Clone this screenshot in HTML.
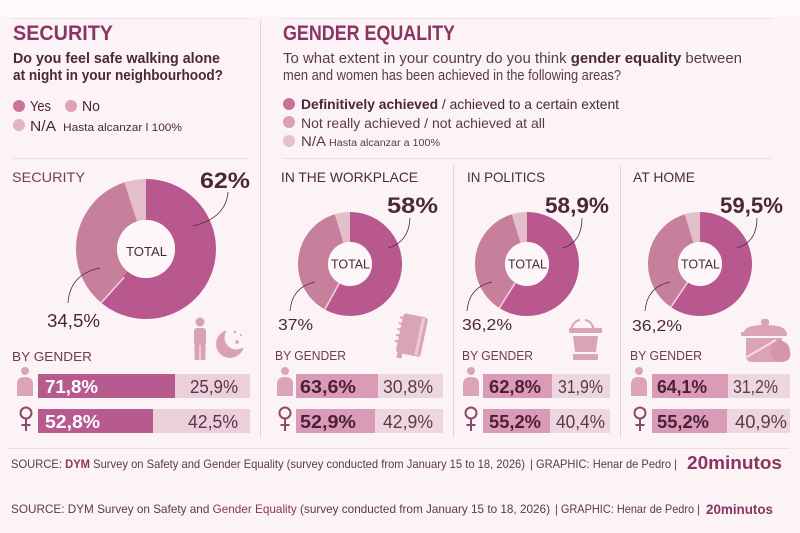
<!DOCTYPE html>
<html><head><meta charset="utf-8"><style>
html,body{margin:0;padding:0;background:#fcf3f6;}
svg{display:block;}
text{font-family:"Liberation Sans",sans-serif;}
</style></head><body>
<svg width="800" height="533" viewBox="0 0 800 533" xmlns="http://www.w3.org/2000/svg">
<rect x="0" y="0" width="800" height="533" fill="#fcf3f6"/>
<rect x="0" y="0" width="800" height="17" fill="#fefafb"/>
<!-- lines -->
<line x1="12" y1="18.5" x2="250" y2="18.5" stroke="#efe3e8" stroke-width="1"/>
<line x1="282" y1="18.5" x2="772" y2="18.5" stroke="#efe3e8" stroke-width="1"/>
<line x1="12" y1="158.5" x2="248" y2="158.5" stroke="#ecdde3" stroke-width="1"/>
<line x1="282" y1="158.5" x2="772" y2="158.5" stroke="#ecdde3" stroke-width="1"/>
<line x1="260.5" y1="20" x2="260.5" y2="438" stroke="#e6d3db" stroke-width="1"/>
<line x1="453.5" y1="165" x2="453.5" y2="438" stroke="#e6d3db" stroke-width="1"/>
<line x1="620.5" y1="165" x2="620.5" y2="438" stroke="#e6d3db" stroke-width="1"/>
<line x1="8" y1="448.5" x2="790" y2="448.5" stroke="#ecdde3" stroke-width="1"/>

<!-- LEFT HEADER -->
<text x="13" y="40" font-size="21" font-weight="bold" fill="#8a3560" textLength="100" lengthAdjust="spacingAndGlyphs">SECURITY</text>
<text x="13" y="63" font-size="15" font-weight="bold" fill="#4a2838" textLength="207" lengthAdjust="spacingAndGlyphs">Do you feel safe walking alone</text>
<text x="13" y="80" font-size="15" font-weight="bold" fill="#4a2838" textLength="210" lengthAdjust="spacingAndGlyphs">at night in your neighbourhood?</text>
<circle cx="19" cy="106" r="6" fill="#c9769b"/>
<text x="30" y="111" font-size="15" fill="#4a2838" textLength="21" lengthAdjust="spacingAndGlyphs">Yes</text>
<circle cx="71" cy="106" r="6" fill="#dba3b8"/>
<text x="82" y="111" font-size="15" fill="#4a2838" textLength="18" lengthAdjust="spacingAndGlyphs">No</text>
<circle cx="19" cy="125" r="6" fill="#e2b5c5"/>
<text x="30" y="131" font-size="15" fill="#4a2838" textLength="26" lengthAdjust="spacingAndGlyphs">N/A</text>
<text x="63" y="131" font-size="11" fill="#4a2838" textLength="119" lengthAdjust="spacingAndGlyphs">Hasta alcanzar l 100%</text>

<!-- RIGHT HEADER -->
<text x="283" y="40" font-size="21" font-weight="bold" fill="#8a3560" textLength="172" lengthAdjust="spacingAndGlyphs">GENDER EQUALITY</text>
<text x="283" y="63" font-size="15" fill="#5a3a4a" textLength="459" lengthAdjust="spacingAndGlyphs">To what extent in your country do you think <tspan font-weight="bold" fill="#4a2838">gender equality</tspan> between</text>
<text x="283" y="80" font-size="15" fill="#5a3a4a" textLength="338" lengthAdjust="spacingAndGlyphs">men and women has been achieved in the following areas?</text>
<circle cx="289" cy="104" r="6" fill="#c96f98"/>
<text x="301" y="109" font-size="14" fill="#4a2838" textLength="318" lengthAdjust="spacingAndGlyphs"><tspan font-weight="bold">Definitively achieved</tspan> / achieved to a certain extent</text>
<circle cx="289" cy="122" r="6" fill="#d9a0b5"/>
<text x="301" y="128" font-size="14" fill="#5a3a4a" textLength="244" lengthAdjust="spacingAndGlyphs">Not really achieved / not achieved at all</text>
<circle cx="289" cy="141" r="6" fill="#e4c3cf"/>
<text x="301" y="146" font-size="14" fill="#5a3a4a" textLength="25" lengthAdjust="spacingAndGlyphs">N/A</text>
<text x="329" y="146" font-size="10" fill="#5a3a4a" textLength="111" lengthAdjust="spacingAndGlyphs">Hasta alcanzar a 100%</text>

<!-- SECURITY DONUT -->
<text x="12" y="182" font-size="14" fill="#7a3a5e" textLength="73" lengthAdjust="spacingAndGlyphs">SECURITY</text>
<g transform="rotate(-90 146 249)">
<circle cx="146" cy="249" r="49.5" fill="none" stroke="#b9588f" stroke-width="41" pathLength="360" stroke-dasharray="220 140"/>
<circle cx="146" cy="249" r="49.5" fill="none" stroke="#c7809b" stroke-width="41" pathLength="360" stroke-dasharray="122 238" stroke-dashoffset="-220"/>
<circle cx="146" cy="249" r="49.5" fill="none" stroke="#e3bfcb" stroke-width="41" pathLength="360" stroke-dasharray="18 342" stroke-dashoffset="-342"/>
</g>
<line x1="124.2" y1="277.3" x2="101" y2="303" stroke="#f5d5e0" stroke-width="1.5"/>
<circle cx="146" cy="249" r="29" fill="#fdf7f9"/>
<text x="126" y="256" font-size="13" fill="#4a2a3a" textLength="41" lengthAdjust="spacingAndGlyphs">TOTAL</text>
<text x="200" y="188" font-size="22" font-weight="bold" fill="#4a2838" textLength="50" lengthAdjust="spacingAndGlyphs">62%</text>
<path d="M228 192 Q226 218 193 226" fill="none" stroke="#4a2a3a" stroke-width="0.8"/>
<text x="47" y="327" font-size="18" fill="#4a2838" textLength="53" lengthAdjust="spacingAndGlyphs">34,5%</text>
<path d="M68 303 Q70 274 100 268" fill="none" stroke="#4a2a3a" stroke-width="0.8"/>
<!-- person & moon -->
<g fill="#d9a1b6">
<circle cx="200" cy="322" r="4.5"/>
<rect x="194" y="328" width="12" height="17" rx="3"/>
<rect x="194.5" y="342" width="5" height="18" rx="1"/>
<rect x="200.5" y="342" width="5" height="18" rx="1"/>
<circle cx="230" cy="344" r="14"/>
</g>
<circle cx="236.5" cy="337.5" r="12" fill="#fcf3f6"/>
<g fill="#d9a1b6"><circle cx="235" cy="332" r="1.2"/><circle cx="241" cy="335" r="1"/><circle cx="237" cy="342" r="1.8"/></g>

<text x="12" y="361" font-size="13" fill="#6b3a55" textLength="80" lengthAdjust="spacingAndGlyphs">BY GENDER</text>
<!-- left bars -->
<rect x="38" y="374" width="137" height="24" fill="#b75a8e"/>
<rect x="175" y="374" width="75" height="24" fill="#ebcfdb"/>
<rect x="38" y="409" width="115" height="24" fill="#b75a8e"/>
<rect x="153" y="409" width="97" height="24" fill="#ebcfdb"/>
<text x="45" y="393" font-size="18" font-weight="bold" fill="#ffffff" textLength="53" lengthAdjust="spacingAndGlyphs">71,8%</text>
<text x="190" y="393" font-size="18" fill="#5a3447" textLength="48" lengthAdjust="spacingAndGlyphs">25,9%</text>
<text x="45" y="428" font-size="18" font-weight="bold" fill="#ffffff" textLength="55" lengthAdjust="spacingAndGlyphs">52,8%</text>
<text x="188" y="428" font-size="18" fill="#5a3447" textLength="50" lengthAdjust="spacingAndGlyphs">42,5%</text>
<!-- male/female left -->
<g fill="#dba4b9"><circle cx="25" cy="371" r="4"/><path d="M17 396 V384 Q17 377 25 377 Q33 377 33 384 V396 Z"/></g>
<g fill="none" stroke="#8b4a6b" stroke-width="2"><circle cx="26" cy="413" r="5.5"/><line x1="26" y1="418.5" x2="26" y2="431"/><line x1="21.5" y1="425" x2="30.5" y2="425"/></g>

<!-- WORKPLACE -->
<text x="281" y="182" font-size="14" fill="#4b2c3d" textLength="137" lengthAdjust="spacingAndGlyphs">IN THE WORKPLACE</text>
<g transform="rotate(-90 350 264)">
<circle cx="350" cy="264" r="37" fill="none" stroke="#b9588f" stroke-width="30" pathLength="360" stroke-dasharray="209 151"/>
<circle cx="350" cy="264" r="37" fill="none" stroke="#c7809b" stroke-width="30" pathLength="360" stroke-dasharray="134 226" stroke-dashoffset="-209"/>
<circle cx="350" cy="264" r="37" fill="none" stroke="#e3bfcb" stroke-width="30" pathLength="360" stroke-dasharray="17 343" stroke-dashoffset="-343"/>
</g>
<line x1="339.3" y1="283.2" x2="324.8" y2="309.5" stroke="#f5d5e0" stroke-width="1.5"/>
<circle cx="350" cy="264" r="22" fill="#fdf7f9"/>
<text x="331" y="268.5" font-size="12.5" fill="#4a2a3a" textLength="39" lengthAdjust="spacingAndGlyphs">TOTAL</text>
<text x="387" y="213" font-size="22" font-weight="bold" fill="#4a2838" textLength="51" lengthAdjust="spacingAndGlyphs">58%</text>
<path d="M410 218 Q409 242 388 248" fill="none" stroke="#4a2a3a" stroke-width="0.8"/>
<text x="278" y="330" font-size="16" fill="#4a2838" textLength="35" lengthAdjust="spacingAndGlyphs">37%</text>
<path d="M290 311 Q292 287 315 282" fill="none" stroke="#4a2a3a" stroke-width="0.8"/>
<!-- notebook -->
<g transform="rotate(12 411 337)" fill="#dba3b8">
<rect x="399" y="315" width="25" height="40" rx="3"/>
<rect x="418" y="316" width="3" height="38" fill="#eccbd7"/>
<g stroke="#dba3b8" stroke-width="2" fill="none"><path d="M396 320 h5"/><path d="M396 326 h5"/><path d="M396 332 h5"/><path d="M396 338 h5"/><path d="M396 344 h5"/></g>
<rect x="401" y="355" width="5" height="5"/>
</g>
<text x="275" y="360" font-size="13" fill="#6b3a55" textLength="71" lengthAdjust="spacingAndGlyphs">BY GENDER</text>
<rect x="296" y="374" width="82" height="24" fill="#da9bb7"/>
<rect x="378" y="374" width="65" height="24" fill="#eed6df"/>
<rect x="296" y="409" width="79" height="24" fill="#da9bb7"/>
<rect x="375" y="409" width="68" height="24" fill="#eed6df"/>
<text x="300" y="393" font-size="18" font-weight="bold" fill="#4c1f38" textLength="56" lengthAdjust="spacingAndGlyphs">63,6%</text>
<text x="383" y="393" font-size="18" fill="#5a3a4a" textLength="50" lengthAdjust="spacingAndGlyphs">30,8%</text>
<text x="300" y="428" font-size="18" font-weight="bold" fill="#4c1f38" textLength="56" lengthAdjust="spacingAndGlyphs">52,9%</text>
<text x="383" y="428" font-size="18" fill="#5a3a4a" textLength="50" lengthAdjust="spacingAndGlyphs">42,9%</text>
<g fill="#dba4b9"><circle cx="285" cy="371" r="4"/><path d="M277 396 V384 Q277 377 285 377 Q293 377 293 384 V396 Z"/></g>
<g fill="none" stroke="#8b4a6b" stroke-width="2"><circle cx="285" cy="413" r="5.5"/><line x1="285" y1="418.5" x2="285" y2="431"/><line x1="280.5" y1="425" x2="289.5" y2="425"/></g>

<!-- POLITICS -->
<text x="467" y="182" font-size="14" fill="#4b2c3d" textLength="78" lengthAdjust="spacingAndGlyphs">IN POLITICS</text>
<g transform="rotate(-90 527 264)">
<circle cx="527" cy="264" r="37" fill="none" stroke="#b9588f" stroke-width="30" pathLength="360" stroke-dasharray="212 148"/>
<circle cx="527" cy="264" r="37" fill="none" stroke="#c7809b" stroke-width="30" pathLength="360" stroke-dasharray="131 229" stroke-dashoffset="-212"/>
<circle cx="527" cy="264" r="37" fill="none" stroke="#e3bfcb" stroke-width="30" pathLength="360" stroke-dasharray="17 343" stroke-dashoffset="-343"/>
</g>
<line x1="515.3" y1="282.7" x2="499.4" y2="308" stroke="#f5d5e0" stroke-width="1.5"/>
<circle cx="527" cy="264" r="22" fill="#fdf7f9"/>
<text x="508" y="268.5" font-size="12.5" fill="#4a2a3a" textLength="39" lengthAdjust="spacingAndGlyphs">TOTAL</text>
<text x="545" y="213" font-size="22" font-weight="bold" fill="#4a2838" textLength="64" lengthAdjust="spacingAndGlyphs">58,9%</text>
<path d="M582 218 Q582 242 563 248" fill="none" stroke="#4a2a3a" stroke-width="0.8"/>
<text x="462" y="330" font-size="16" fill="#4a2838" textLength="50" lengthAdjust="spacingAndGlyphs">36,2%</text>
<path d="M467 311 Q469 287 492 282" fill="none" stroke="#4a2a3a" stroke-width="0.8"/>
<!-- podium -->
<g fill="#dba3b8">
<path d="M571 330 Q573 321 580 320" fill="none" stroke="#dba3b8" stroke-width="2"/>
<path d="M594 330 Q592 321 585 320" fill="none" stroke="#dba3b8" stroke-width="2"/>
<rect x="569" y="328" width="33" height="5" rx="1"/>
<path d="M573 336 H598 L596 352 H575 Z"/>
<rect x="573" y="354" width="25" height="6" rx="1"/>
</g>
<text x="462" y="360" font-size="13" fill="#6b3a55" textLength="71" lengthAdjust="spacingAndGlyphs">BY GENDER</text>
<rect x="483" y="374" width="69" height="24" fill="#da9bb7"/>
<rect x="552" y="374" width="58" height="24" fill="#eed6df"/>
<rect x="483" y="409" width="67" height="24" fill="#da9bb7"/>
<rect x="550" y="409" width="60" height="24" fill="#eed6df"/>
<text x="489" y="393" font-size="18" font-weight="bold" fill="#4c1f38" textLength="52" lengthAdjust="spacingAndGlyphs">62,8%</text>
<text x="558" y="393" font-size="18" fill="#5a3a4a" textLength="45" lengthAdjust="spacingAndGlyphs">31,9%</text>
<text x="489" y="428" font-size="18" font-weight="bold" fill="#4c1f38" textLength="52" lengthAdjust="spacingAndGlyphs">55,2%</text>
<text x="556" y="428" font-size="18" fill="#5a3a4a" textLength="49" lengthAdjust="spacingAndGlyphs">40,4%</text>
<g fill="#dba4b9"><circle cx="471" cy="371" r="4"/><path d="M463 396 V384 Q463 377 471 377 Q479 377 479 384 V396 Z"/></g>
<g fill="none" stroke="#8b4a6b" stroke-width="2"><circle cx="471" cy="413" r="5.5"/><line x1="471" y1="418.5" x2="471" y2="431"/><line x1="466.5" y1="425" x2="475.5" y2="425"/></g>

<!-- HOME -->
<text x="633" y="182" font-size="14" fill="#4b2c3d" textLength="62" lengthAdjust="spacingAndGlyphs">AT HOME</text>
<g transform="rotate(-90 700 264)">
<circle cx="700" cy="264" r="37" fill="none" stroke="#b9588f" stroke-width="30" pathLength="360" stroke-dasharray="214 146"/>
<circle cx="700" cy="264" r="37" fill="none" stroke="#c7809b" stroke-width="30" pathLength="360" stroke-dasharray="129 231" stroke-dashoffset="-214"/>
<circle cx="700" cy="264" r="37" fill="none" stroke="#e3bfcb" stroke-width="30" pathLength="360" stroke-dasharray="17 343" stroke-dashoffset="-343"/>
</g>
<line x1="687.7" y1="282.2" x2="671" y2="307" stroke="#f5d5e0" stroke-width="1.5"/>
<circle cx="700" cy="264" r="22" fill="#fdf7f9"/>
<text x="681" y="268.5" font-size="12.5" fill="#4a2a3a" textLength="39" lengthAdjust="spacingAndGlyphs">TOTAL</text>
<text x="720" y="213" font-size="22" font-weight="bold" fill="#4a2838" textLength="63" lengthAdjust="spacingAndGlyphs">59,5%</text>
<path d="M757 218 Q757 242 737 248" fill="none" stroke="#4a2a3a" stroke-width="0.8"/>
<text x="632" y="331" font-size="16" fill="#4a2838" textLength="50" lengthAdjust="spacingAndGlyphs">36,2%</text>
<path d="M645 311 Q647 287 670 282" fill="none" stroke="#4a2a3a" stroke-width="0.8"/>
<!-- pot -->
<g fill="#dba3b8">
<rect x="761" y="319" width="8" height="6" rx="2"/>
<path d="M744 332 Q745 325 765 325 Q785 325 786 332 Z"/>
<rect x="741" y="332" width="46" height="4" rx="1"/>
<path d="M746 338 H782 V356 Q782 362 776 362 H752 Q746 362 746 356 Z"/>
<path d="M775 340 Q790 340 790 352 Q792 362 780 362 Q770 362 771 350 Q771 340 775 340 Z" fill="#d595ad"/>
</g>
<line x1="745" y1="358" x2="776" y2="340" stroke="#f6dde6" stroke-width="2"/>
<text x="630" y="360" font-size="13" fill="#6b3a55" textLength="72" lengthAdjust="spacingAndGlyphs">BY GENDER</text>
<rect x="652" y="374" width="76" height="24" fill="#da9bb7"/>
<rect x="728" y="374" width="62" height="24" fill="#eed6df"/>
<rect x="652" y="409" width="75" height="24" fill="#da9bb7"/>
<rect x="727" y="409" width="63" height="24" fill="#eed6df"/>
<text x="657" y="393" font-size="18" font-weight="bold" fill="#4c1f38" textLength="50" lengthAdjust="spacingAndGlyphs">64,1%</text>
<text x="733" y="393" font-size="18" fill="#5a3a4a" textLength="45" lengthAdjust="spacingAndGlyphs">31,2%</text>
<text x="657" y="428" font-size="18" font-weight="bold" fill="#4c1f38" textLength="52" lengthAdjust="spacingAndGlyphs">55,2%</text>
<text x="735" y="428" font-size="18" fill="#5a3a4a" textLength="52" lengthAdjust="spacingAndGlyphs">40,9%</text>
<g fill="#dba4b9"><circle cx="639" cy="371" r="4"/><path d="M631 396 V384 Q631 377 639 377 Q647 377 647 384 V396 Z"/></g>
<g fill="none" stroke="#8b4a6b" stroke-width="2"><circle cx="640" cy="413" r="5.5"/><line x1="640" y1="418.5" x2="640" y2="431"/><line x1="635.5" y1="425" x2="644.5" y2="425"/></g>

<!-- FOOTER -->
<text x="11" y="468" font-size="12" fill="#5a3a4a" textLength="514" lengthAdjust="spacingAndGlyphs">SOURCE: <tspan fill="#8a3560" font-weight="bold">DYM</tspan> Survey on Safety and Gender Equality (survey conducted from January 15 to 18, 2026)</text>
<text x="530" y="468" font-size="12" fill="#5a3a4a" textLength="147" lengthAdjust="spacingAndGlyphs">| GRAPHIC: Henar de Pedro |</text>
<text x="687" y="469" font-size="18" font-weight="bold" fill="#8a3560" textLength="95" lengthAdjust="spacingAndGlyphs">20minutos</text>
<text x="11" y="513" font-size="12" fill="#5a3a4a" textLength="539" lengthAdjust="spacingAndGlyphs">SOURCE: DYM Survey on Safety and <tspan fill="#8a3560">Gender Equality</tspan> (survey conducted from January 15 to 18, 2026)</text>
<text x="555" y="513" font-size="12" fill="#5a3a4a" textLength="145" lengthAdjust="spacingAndGlyphs">| GRAPHIC: Henar de Pedro |</text>
<text x="706" y="514" font-size="13.5" font-weight="bold" fill="#8a3560" textLength="67" lengthAdjust="spacingAndGlyphs">20minutos</text>
</svg>
</body></html>
